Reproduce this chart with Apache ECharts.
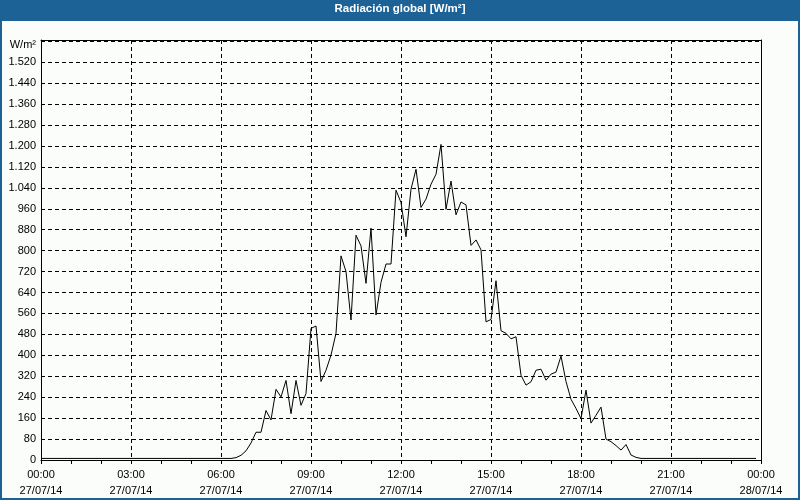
<!DOCTYPE html>
<html>
<head>
<meta charset="utf-8">
<script src="https://cdn.jsdelivr.net/npm/echarts@6/dist/echarts.min.js"></script>
<style>
html,body{margin:0;padding:0;background:#fbfdfa;}
#chart{width:800px;height:500px;}
</style>
</head>
<body>
<div id="chart"></div>
<script>
// Data: time of day (10-min samples) and global radiation W/m²
const times = ['00:00','06:20','06:30','06:40','06:50','07:00','07:10','07:20','07:30','07:40','07:50',
  '08:00','08:10','08:20','08:30','08:40','08:50','09:00','09:10','09:20','09:30','09:40','09:50',
  '10:00','10:10','10:20','10:30','10:40','10:50','11:00','11:10','11:20','11:30','11:40','11:50',
  '12:00','12:10','12:20','12:30','12:40','12:50','13:00','13:10','13:20','13:30','13:40','13:50',
  '14:00','14:10','14:20','14:30','14:40','14:50','15:00','15:10','15:20','15:30','15:40','15:50',
  '16:00','16:10','16:20','16:30','16:40','16:50','17:00','17:10','17:20','17:30','17:40','17:50',
  '18:00','18:10','18:20','18:30','18:40','18:50','19:00','19:10','19:20','19:30','19:40','19:50',
  '20:00','23:50'];
const radiation = [6,6,9,18,35,65,106,106,189,153,270,
  241,304,177,304,209,254,503,512,300,343,401,484,
  780,720,535,859,818,675,886,554,679,749,749,1031,
  984,853,1035,1111,965,997,1054,1092,1206,958,1066,937,
  986,975,820,841,803,528,537,685,494,484,463,471,
  324,286,299,343,347,305,328,336,397,300,232,197,
  158,267,141,171,202,80,70,55,38,59,19,10,
  6,6];
const titleText = 'Radiación global [W/m²]';
const unitText = 'W/m²';
const dateLabel = '27/07/14';
const nextDateLabel = '28/07/14';
const yLabelMax = 1520;

function toHours(s){ const p = s.split(':'); return +p[0] + (+p[1])/60; }
function pad(n){ return (n<10?'0':'') + n; }
function fmtNum(v){ return String(v).replace(/\B(?=(\d{3})+(?!\d))/g, '.'); }

const chart = echarts.init(document.getElementById('chart'));
const font = 'Liberation Sans, Arial, sans-serif';
const dashed = {color:'#000', type:[4,3], width:1};

chart.setOption({
  animation: false,
  backgroundColor: '#fbfdfa',
  graphic: [
    {type:'rect', left:0, top:0, shape:{width:800, height:21}, style:{fill:'#1c6297'}, z:-1},
    {type:'rect', shape:{x:1, y:1, width:798, height:498}, style:{fill:null, stroke:'#1c6297', lineWidth:2}, z:100}
  ],
  title: [
    {text: titleText, left:'center', top:3, padding:0,
     textStyle:{color:'#fff', fontWeight:'bold', fontSize:11.5, fontFamily:font}},
    {text: unitText, right:764, top:39, padding:0,
     textStyle:{color:'#000', fontWeight:'normal', fontSize:11, fontFamily:font}}
  ],
  grid: {left:41, right:39, top:40, bottom:40, show:false},
  xAxis: [{
    type:'value', min:0, max:24, interval:3,
    axisLine:{show:true, onZero:false, lineStyle:{color:'#000', width:1}},
    axisTick:{show:true, length:4, lineStyle:{color:'#000'}},
    minorTick:{show:true, splitNumber:3, length:4, lineStyle:{color:'#000'}},
    splitLine:{show:true, lineStyle:dashed},
    axisLabel:{margin:7, fontSize:11, fontFamily:font, color:'#000', lineHeight:16,
      showMinLabel:true, showMaxLabel:true,
      formatter: v => pad(v%24) + ':00\n' + (v>=24 ? nextDateLabel : dateLabel)}
  },{
    type:'value', position:'top', min:0, max:24,
    axisLine:{show:true, onZero:false, lineStyle:{color:'#000', width:1}},
    axisTick:{show:false}, axisLabel:{show:false}, splitLine:{show:false}
  }],
  yAxis: [{
    type:'value', min:0, max:1605, interval:80,
    axisLine:{show:true, onZero:false, lineStyle:{color:'#000', width:1}},
    axisTick:{show:false},
    splitLine:{show:true, lineStyle:dashed},
    axisLabel:{margin:5, fontSize:11, fontFamily:font, color:'#000',
      formatter: v => (v % 80 === 0 && v <= yLabelMax ? fmtNum(v) : '')}
  },{
    type:'value', position:'right', min:0, max:1605,
    axisLine:{show:true, onZero:false, lineStyle:{color:'#000', width:1}},
    axisTick:{show:false}, axisLabel:{show:false}, splitLine:{show:false}
  }],
  series: [{
    type:'line',
    data: times.map((t,i) => [toHours(t), radiation[i]]),
    showSymbol:false, symbol:'none',
    lineStyle:{color:'#000', width:1},
    z:5
  }]
});
</script>
</body>
</html>
